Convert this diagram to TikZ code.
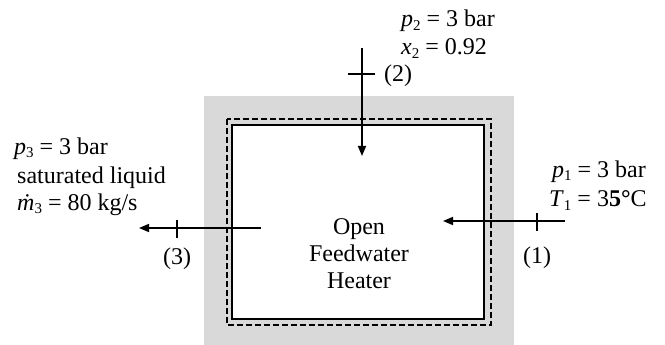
\documentclass[tikz,border=0pt]{standalone}
\usepackage{fontspec}
\setmainfont{Liberation Serif}
\usetikzlibrary{arrows.meta}
\newcommand\sbs[1]{\raisebox{-0.3ex}{\fontsize{15}{15}\selectfont #1}}
\begin{document}
\begin{tikzpicture}[x=1pt,y=-1pt,
  lbl/.style={font=\fontsize{24}{28}\selectfont, inner sep=0pt},
  flow/.style={line width=1.5pt, -{Triangle[length=10pt,width=8pt]}},
  tickline/.style={line width=1.2pt}]
\useasboundingbox (0,0) rectangle (665,345);
% shell
\fill[gray!30] (204,96) rectangle (514,345);
\draw[line width=1.2pt, dash pattern=on 6pt off 3pt] (227,119) rectangle (491,325);
\draw[line width=1.5pt, fill=white] (232,125) rectangle (484,319);
% heater text
\node[lbl, anchor=base] (h1) at (359,234) {Open};
\node[lbl, anchor=base] (h2) at (359,261) {Feedwater};
\node[lbl, anchor=base] (h3) at (359,288) {Heater};
% stream 2
\coordinate (s2a) at (362,48);
\coordinate (s2b) at (362,156);
\draw[flow] (s2a) -- (s2b);
\coordinate (t2a) at (348,74);
\coordinate (t2b) at (375,74);
\draw[tickline] (t2a) -- (t2b);
\node[lbl, anchor=base west] (n2) at (384,82) {(2)};
\node[lbl, anchor=base west] (p2) at (401,27) {\textit{p}\sbs{2} = 3 bar};
\node[lbl, anchor=base west] (x2) at (401,55) {\textit{x}\sbs{2} = 0.92};
% stream 1
\coordinate (s1a) at (565,221);
\coordinate (s1b) at (443,221);
\draw[flow] (s1a) -- (s1b);
\coordinate (t1a) at (537,213);
\coordinate (t1b) at (537,231);
\draw[tickline] (t1a) -- (t1b);
\node[lbl, anchor=base] (n1) at (537,263) {(1)};
\node[lbl, anchor=base west] (p1) at (552,177) {\textit{p}\sbs{1} = 3 bar};
\node[lbl, anchor=base west] (T1) at (549,207) {\textit{T}\sbs{1} = 3\textbf{5°}C};
% stream 3
\coordinate (s3a) at (261,228);
\coordinate (s3b) at (139,228);
\draw[flow] (s3a) -- (s3b);
\coordinate (t3a) at (177,220);
\coordinate (t3b) at (177,238);
\draw[tickline] (t3a) -- (t3b);
\node[lbl, anchor=base] (n3) at (177,264) {(3)};
\node[lbl, anchor=base west] (p3) at (14,154) {\textit{p}\sbs{3} = 3 bar};
\node[lbl, anchor=base west] (sl) at (17,183) {saturated liquid};
\node[lbl, anchor=base west] (m3) at (17,210) {\textit{ṁ}\sbs{3} = 80 kg/s};
\end{tikzpicture}
\end{document}
